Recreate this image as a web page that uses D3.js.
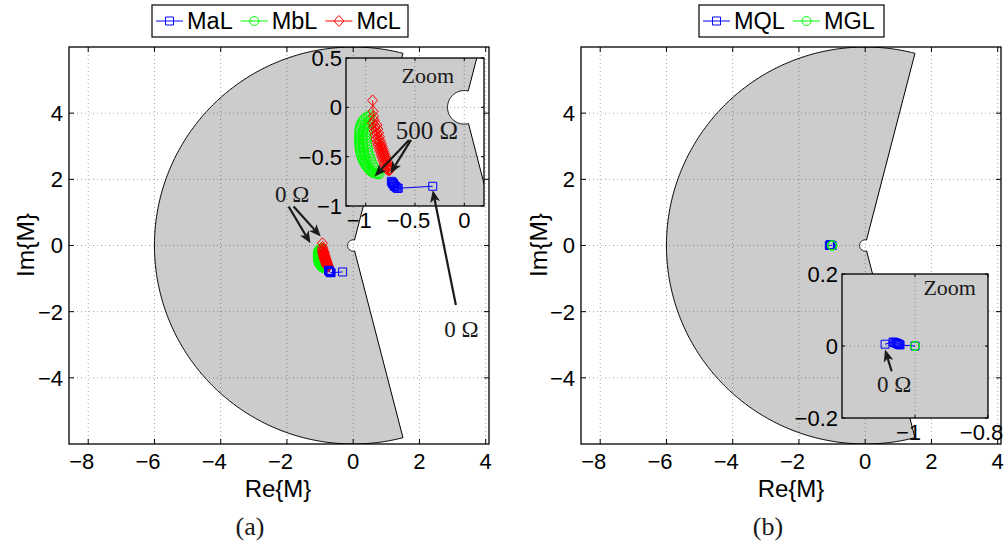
<!DOCTYPE html>
<html><head><meta charset="utf-8">
<script src="https://cdn.jsdelivr.net/npm/d3@7"></script>
<style>
body{margin:0;background:#fff;}
svg text{font-family:"Liberation Sans",Arial,Helvetica,sans-serif;fill:#000;}
svg text.serif{font-family:"Liberation Serif","Times New Roman",serif;fill:#1a1a1a;}
</style></head><body>
<svg id="fig" width="1005" height="547"></svg>
<script>
// ---- Series (a): M parameters vs. load resistance, 0 Ω ... 500 Ω ----
const maL_re = [-0.32, -0.67, -0.68, -0.69, -0.70, -0.71, -0.71, -0.72, -0.72, -0.73, -0.73, -0.74];
const maL_im = [-0.80, -0.82, -0.82, -0.81, -0.80, -0.80, -0.79, -0.78, -0.77, -0.77, -0.76, -0.75];

const mbL_re = [-0.95, -0.975, -1.00, -1.02, -1.035, -1.045, -1.053, -1.058, -1.062, -1.064, -1.065, -1.066, -1.066, -1.066, -1.066,
                -1.065, -1.064, -1.063, -1.061, -1.058, -1.054, -1.049, -1.043, -1.036, -1.028, -1.018, -1.006, -0.993, -0.977,
                -0.958, -0.94, -0.92, -0.90, -0.88, -0.86,
                -0.875, -0.89, -0.91, -0.925, -0.94, -0.95, -0.96, -0.97, -0.975, -0.98, -0.985, -0.99, -0.99, -0.99,
                -0.985, -0.98, -0.975, -0.97, -0.965,
                -1.00, -1.015, -1.025, -1.03, -1.03, -1.03, -1.028, -1.024, -1.018, -1.01, -1.0, -0.985, -0.965, -0.945, -0.925];
const mbL_im = [-0.08, -0.09, -0.10, -0.12, -0.14, -0.16, -0.18, -0.20, -0.22, -0.24, -0.26, -0.28, -0.30, -0.32, -0.34,
                -0.36, -0.38, -0.40, -0.42, -0.44, -0.46, -0.48, -0.50, -0.52, -0.54, -0.56, -0.58, -0.60, -0.62,
                -0.64, -0.655, -0.665, -0.673, -0.678, -0.68,
                -0.665, -0.64, -0.61, -0.58, -0.55, -0.52, -0.49, -0.46, -0.43, -0.40, -0.37, -0.34, -0.31, -0.28,
                -0.25, -0.22, -0.19, -0.16, -0.13,
                -0.17, -0.21, -0.25, -0.29, -0.33, -0.37, -0.41, -0.45, -0.49, -0.53, -0.57, -0.60, -0.63, -0.65, -0.665];

const mcL_re = [-0.93, -0.925, -0.92, -0.915, -0.93, -0.885, -0.92, -0.877, -0.913, -0.869, -0.905, -0.86, -0.896, -0.851,
                -0.886, -0.841, -0.876, -0.831, -0.866, -0.821, -0.856, -0.811, -0.846, -0.801, -0.836, -0.791, -0.826,
                -0.781, -0.816, -0.773, -0.806, -0.766, -0.796, -0.76, -0.786, -0.755, -0.775, -0.76,
                -0.903, -0.895, -0.885, -0.874, -0.863, -0.852, -0.841, -0.83, -0.819, -0.808, -0.797, -0.786, -0.776];
const mcL_im = [0.07, -0.04, -0.09, -0.13, -0.16, -0.18, -0.20, -0.22, -0.24, -0.26, -0.28, -0.30, -0.32, -0.34,
                -0.355, -0.37, -0.385, -0.40, -0.415, -0.43, -0.445, -0.46, -0.475, -0.49, -0.505, -0.52, -0.535,
                -0.55, -0.565, -0.58, -0.59, -0.60, -0.61, -0.62, -0.625, -0.63, -0.635, -0.64,
                -0.19, -0.23, -0.27, -0.31, -0.35, -0.39, -0.42, -0.45, -0.48, -0.51, -0.54, -0.57, -0.60];

// ---- Series (b) ----
const mqL_re = [-1.082, -1.060, -1.057, -1.054, -1.051, -1.049, -1.047, -1.045, -1.043, -1.041, -1.000];
const mqL_im = [0.005, 0.011, 0.010, 0.009, 0.008, 0.007, 0.006, 0.005, 0.004, 0.003, 0.000];
const mgL_re = [-1.000, -1.000, -1.000];
const mgL_im = [0.000, 0.000, 0.000];

// ---- Stability region: outer radius, inner radius, ray angles (deg) ----
const regionRadii = [6, 0.17];
const regionAngles = [75.5, 284.5];

// ---- Axis limits and ticks ----
const mainXLim = [-8.58, 4.1], mainYLim = [-6, 6];
const mainXTicks = [-8, -6, -4, -2, 0, 2, 4];
const mainYTicks = [-4, -2, 0, 2, 4];
const zoomAXLim = [-1.2, 0.2], zoomAYLim = [-1, 0.5];
const zoomAXTicks = [-1, -0.5, 0], zoomAYTicks = [-1, -0.5, 0, 0.5];
const zoomBXLim = [-1.2, -0.8], zoomBYLim = [-0.2, 0.2];
const zoomBXTicks = [-1, -0.8], zoomBYTicks = [-0.2, 0, 0.2];

const legendA = ["MaL", "MbL", "McL"];
const legendB = ["MQL", "MGL"];

const BLUE = "#0000ff", GREEN = "#00ff00", RED = "#ff0000", GREY = "#cccccc";
const svg = d3.select("#fig");
let clipCount = 0;
const fmt = v => String(v).replace("-", "\u2212");

function zip(re, im) { return re.map((r, i) => [r, im[i]]); }

function markerPath(type) {
  if (type === "square") { return "M-4,-4H4V4H-4Z"; }
  if (type === "diamond") { return "M0,-5.5L5,0L0,5.5L-5,0Z"; }
  return d3.arc()({innerRadius: 0, outerRadius: 4.5, startAngle: 0, endAngle: 2 * Math.PI});
}

function regionCoords() {
  const [R, r] = regionRadii, [a1, a2] = regionAngles;
  const pts = [];
  const rad = d => d * Math.PI / 180;
  for (let a = a1; a <= a2 + 1e-9; a += 0.5) pts.push([R * Math.cos(rad(a)), R * Math.sin(rad(a))]);
  for (let a = a2; a >= a1 - 1e-9; a -= 2) pts.push([r * Math.cos(rad(a)), r * Math.sin(rad(a))]);
  return pts;
}

function drawSeries(g, x, y, s) {
  const data = zip(s.re, s.im);
  g.append("path").datum(data)
    .attr("d", d3.line().x(d => x(d[0])).y(d => y(d[1])))
    .attr("fill", "none").attr("stroke", s.color).attr("stroke-width", 1);
  g.selectAll(null).data(data).enter().append("path")
    .attr("d", markerPath(s.marker))
    .attr("transform", d => `translate(${x(d[0])},${y(d[1])})`)
    .attr("fill", "none").attr("stroke", s.color).attr("stroke-width", 1);
}

// One axes box: background, region, grid, series, frame, ticks, tick labels
function drawAxes(o) {
  const g = svg.append("g");
  const x = d3.scaleLinear().domain(o.xLim).range([o.left, o.right]);
  const y = d3.scaleLinear().domain(o.yLim).range([o.bottom, o.top]);
  const id = "clip" + (clipCount++);
  g.append("clipPath").attr("id", id).append("rect")
    .attr("x", o.left).attr("y", o.top).attr("width", o.right - o.left).attr("height", o.bottom - o.top);
  g.append("rect").attr("x", o.left).attr("y", o.top).attr("width", o.right - o.left).attr("height", o.bottom - o.top)
    .attr("fill", "#fff");
  const inner = g.append("g").attr("clip-path", `url(#${id})`);
  inner.append("path").datum(regionCoords())
    .attr("d", d3.line().x(d => x(d[0])).y(d => y(d[1])).curve(d3.curveLinearClosed))
    .attr("fill", GREY).attr("stroke", "#000").attr("stroke-width", 1);
  // dotted grid
  const grid = inner.append("g").attr("stroke", "#000").attr("stroke-opacity", 0.35)
    .attr("stroke-width", 1).attr("stroke-dasharray", "1,3");
  o.xTicks.forEach(t => grid.append("line").attr("x1", x(t)).attr("x2", x(t)).attr("y1", o.top).attr("y2", o.bottom));
  o.yTicks.forEach(t => grid.append("line").attr("y1", y(t)).attr("y2", y(t)).attr("x1", o.left).attr("x2", o.right));
  o.series.forEach(s => drawSeries(inner, x, y, s));
  // frame and inward ticks on all sides
  g.append("rect").attr("x", o.left).attr("y", o.top).attr("width", o.right - o.left).attr("height", o.bottom - o.top)
    .attr("fill", "none").attr("stroke", "#000").attr("stroke-width", 1.3);
  const tl = o.tickLen;
  const tk = g.append("g").attr("stroke", "#000").attr("stroke-width", 1);
  o.xTicks.forEach(t => {
    tk.append("line").attr("x1", x(t)).attr("x2", x(t)).attr("y1", o.bottom).attr("y2", o.bottom - tl);
    tk.append("line").attr("x1", x(t)).attr("x2", x(t)).attr("y1", o.top).attr("y2", o.top + tl);
  });
  o.yTicks.forEach(t => {
    tk.append("line").attr("y1", y(t)).attr("y2", y(t)).attr("x1", o.left).attr("x2", o.left + tl);
    tk.append("line").attr("y1", y(t)).attr("y2", y(t)).attr("x1", o.right).attr("x2", o.right - tl);
  });
  // x labels: the number is centred on the tick, a minus sign hangs to its left
  o.xTicks.forEach(t => g.append("text").attr("x", x(t)).attr("y", o.bottom + o.xLabelDy)
    .attr("dx", t < 0 ? "-0.292em" : 0)
    .attr("text-anchor", "middle").attr("font-size", o.fontSize).text(fmt(t)));
  o.yTicks.forEach(t => g.append("text").attr("x", o.left - o.yLabelDx).attr("y", y(t)).attr("dy", "0.36em")
    .attr("text-anchor", "end").attr("font-size", o.fontSize).text(fmt(t)));
  return {g, x, y};
}

function arrow(g, x1, y1, x2, y2) {
  const L = Math.hypot(x2 - x1, y2 - y1), ux = (x2 - x1) / L, uy = (y2 - y1) / L;
  const hl = 12, hw = 5, back = 9;
  const bx = x2 - ux * hl, by = y2 - uy * hl;
  const nx = x2 - ux * back, ny = y2 - uy * back;
  g.append("line").attr("x1", x1).attr("y1", y1).attr("x2", nx).attr("y2", ny)
    .attr("stroke", "#1a1a1a").attr("stroke-width", 2.2);
  g.append("path").attr("d", `M${x2},${y2}L${bx - uy * hw},${by + ux * hw}L${nx},${ny}L${bx + uy * hw},${by - ux * hw}Z`)
    .attr("fill", "#1a1a1a");
}

function legend(items, colors, markers, x0, y0, w, h, gaps) {
  const g = svg.append("g");
  g.append("rect").attr("x", x0).attr("y", y0).attr("width", w).attr("height", h)
    .attr("fill", "#fff").attr("stroke", "#000").attr("stroke-width", 1.2);
  let cx = x0 + 4;
  items.forEach((name, i) => {
    const cy = y0 + h / 2;
    g.append("line").attr("x1", cx).attr("x2", cx + 27).attr("y1", cy).attr("y2", cy).attr("stroke", colors[i]);
    g.append("path").attr("d", markerPath(markers[i])).attr("transform", `translate(${cx + 13.5},${cy})`)
      .attr("fill", "none").attr("stroke", colors[i]);
    const t = g.append("text").attr("x", cx + 31).attr("y", cy).attr("dy", "0.36em").attr("font-size", 23.5).text(name);
    cx += 31 + t.node().getComputedTextLength() + gaps;
  });
}

const seriesA = [
  {re: mbL_re, im: mbL_im, color: GREEN, marker: "circle"},
  {re: mcL_re, im: mcL_im, color: RED, marker: "diamond"},
  {re: maL_re, im: maL_im, color: BLUE, marker: "square"}
];
const seriesB = [
  {re: mqL_re, im: mqL_im, color: BLUE, marker: "square"},
  {re: mgL_re, im: mgL_im, color: GREEN, marker: "circle"}
];

const common = {xLim: mainXLim, yLim: mainYLim, xTicks: mainXTicks, yTicks: mainYTicks, top: 47, bottom: 444,
  tickLen: 5, fontSize: 22, xLabelDy: 25, yLabelDx: 6};

// ---------- panel (a) ----------
const A = drawAxes(Object.assign({}, common, {left: 69, right: 489, series: seriesA}));
A.g.append("text").attr("x", 278).attr("y", 497).attr("text-anchor", "middle").attr("font-size", 24).text("Re{M}");
A.g.append("text").attr("transform", "translate(34,245) rotate(-90)").attr("text-anchor", "middle").attr("font-size", 24.5).text("Im{M}");
svg.append("text").attr("class", "serif").attr("x", 250).attr("y", 535).attr("text-anchor", "middle").attr("font-size", 26).text("(a)");
A.g.append("text").attr("class", "serif").attr("x", A.x(-1.84)).attr("y", A.y(1.3)).attr("text-anchor", "middle").attr("font-size", 23).text("0 \u03A9");
arrow(A.g, A.x(-1.95), A.y(1.18), A.x(-1.29), A.y(0.07));
arrow(A.g, A.x(-1.8), A.y(1.18), A.x(-0.98), A.y(0.27));

const ZA = drawAxes({left: 346, right: 484, top: 58, bottom: 206, xLim: zoomAXLim, yLim: zoomAYLim,
  xTicks: zoomAXTicks, yTicks: zoomAYTicks, tickLen: 3, fontSize: 22, xLabelDy: 22, yLabelDx: 4, series: seriesA});
ZA.g.append("text").attr("class", "serif").attr("x", ZA.x(-0.37)).attr("y", ZA.y(0.25)).attr("text-anchor", "middle").attr("font-size", 22).text("Zoom");
ZA.g.append("text").attr("class", "serif").attr("x", ZA.x(-0.38)).attr("y", ZA.y(-0.32)).attr("text-anchor", "middle").attr("font-size", 25).text("500 \u03A9");
arrow(ZA.g, ZA.x(-0.56), ZA.y(-0.33), ZA.x(-0.91), ZA.y(-0.70));
arrow(ZA.g, ZA.x(-0.54), ZA.y(-0.33), ZA.x(-0.75), ZA.y(-0.67));

// label and arrow for the 0 Ω point of MaL, drawn above the zoom box
svg.append("text").attr("class", "serif").attr("x", A.x(3.27)).attr("y", A.y(-2.77)).attr("text-anchor", "middle").attr("font-size", 23).text("0 \u03A9");
arrow(svg, A.x(3.1), A.y(-1.8), ZA.x(maL_re[0]), ZA.y(maL_im[0]) + 4);
legend(legendA, [BLUE, GREEN, RED], ["square", "circle", "diamond"], 152, 5, 256, 32, 8);

// ---------- panel (b) ----------
const B = drawAxes(Object.assign({}, common, {left: 581, right: 1001, series: seriesB}));
B.g.append("text").attr("x", 791).attr("y", 497).attr("text-anchor", "middle").attr("font-size", 24).text("Re{M}");
B.g.append("text").attr("transform", "translate(547,245) rotate(-90)").attr("text-anchor", "middle").attr("font-size", 24.5).text("Im{M}");
svg.append("text").attr("class", "serif").attr("x", 768).attr("y", 535).attr("text-anchor", "middle").attr("font-size", 26).text("(b)");

const ZB = drawAxes({left: 842, right: 988, top: 274, bottom: 418, xLim: zoomBXLim, yLim: zoomBYLim,
  xTicks: zoomBXTicks, yTicks: zoomBYTicks, tickLen: 3, fontSize: 22, xLabelDy: 22, yLabelDx: 4, series: seriesB});
ZB.g.append("text").attr("class", "serif").attr("x", ZB.x(-0.905)).attr("y", ZB.y(0.142)).attr("text-anchor", "middle").attr("font-size", 22).text("Zoom");
ZB.g.append("text").attr("class", "serif").attr("x", ZB.x(-1.057)).attr("y", ZB.y(-0.128)).attr("text-anchor", "middle").attr("font-size", 23).text("0 \u03A9");
arrow(ZB.g, ZB.x(-1.064), ZB.y(-0.07), ZB.x(-1.082), ZB.y(-0.01));
legend(legendB, [BLUE, GREEN], ["square", "circle"], 699, 5, 185, 32, 8);
</script>
</body></html>
